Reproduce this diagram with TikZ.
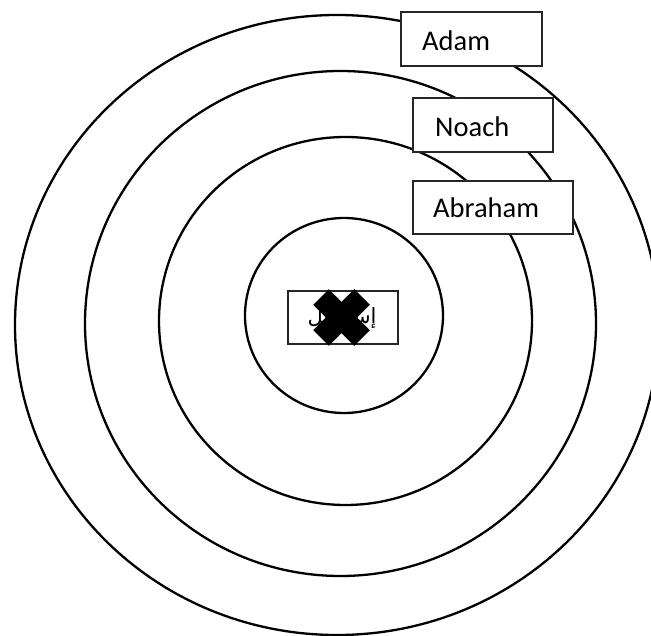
\documentclass[tikz,border=0pt]{standalone}
\usepackage{fontspec}
\setmainfont{Carlito}
\newfontfamily\arabicfont[Script=Arabic]{DejaVu Sans}
\TeXXeTstate=1
\begin{document}
\begin{tikzpicture}[x=1pt,y=-1pt,
  ring/.style={draw=black,line width=2.3pt},
  namebox/.style={draw=black!85,line width=1.3pt,fill=white,rectangle,inner sep=0pt},
  label/.style={anchor=base west,inner sep=0pt,font=\fontsize{28.5}{34}\selectfont},
  crossarm/.style={line width=22pt,line cap=butt,draw=black}]
\useasboundingbox (0,0) rectangle (651,636);
% rings
\draw[ring] (337,325) ellipse [x radius=322,y radius=310];
\draw[ring] (340.5,323.5) ellipse [x radius=255.5,y radius=252.5];
\draw[ring] (345.5,321) ellipse [x radius=186.5,y radius=184];
\draw[ring] (344,315.5) ellipse [x radius=99,y radius=97.5];
% boxes
\node[namebox,minimum width=141pt,minimum height=54pt] (adambox) at (471.5,39) {};
\node[namebox,minimum width=140pt,minimum height=54pt] (noachbox) at (483,125) {};
\node[namebox,minimum width=160pt,minimum height=53pt] (abrahambox) at (493,207.5) {};
\node[label] (adam) at (422,51) {Adam};
\node[label] (noach) at (435,137) {Noach};
\node[label] (abraham) at (433,218) {Abraham};
% centre
\node[namebox,minimum width=110pt,minimum height=53pt] (centrebox) at (343,317.5) {};
\node[inner sep=0pt] (centretext) at (342,318) {\fontsize{21}{24}\selectfont\arabicfont\beginR إسرائيل\endR};
\coordinate (xa) at (321,297);
\coordinate (xb) at (362,338);
\coordinate (xc) at (362,297);
\coordinate (xd) at (321,338);
\draw[crossarm] (xa) -- (xb);
\draw[crossarm] (xc) -- (xd);
\end{tikzpicture}
\end{document}
